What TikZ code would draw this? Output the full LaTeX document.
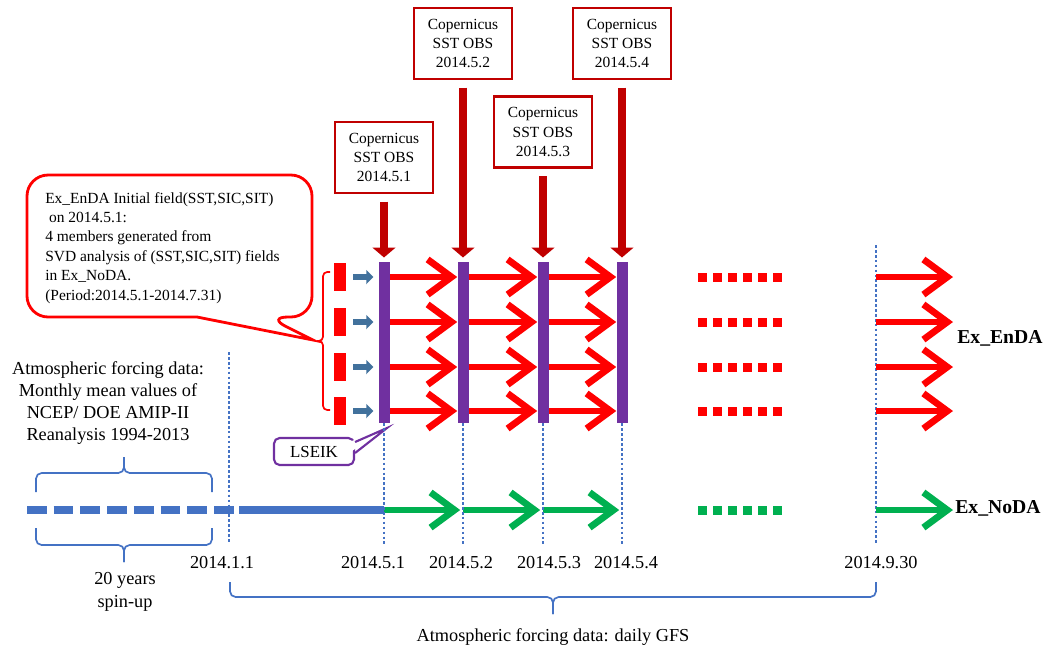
\documentclass[tikz,border=0pt]{standalone}
\usepackage{fontspec}
\setmainfont{Liberation Serif}
\usepackage{tikz}
\usetikzlibrary{arrows.meta,calc}

\definecolor{obsred}{RGB}{192,0,0}
\definecolor{lsepurple}{RGB}{112,48,160}
\definecolor{tlblue}{RGB}{68,114,196}
\definecolor{arrblue}{RGB}{65,113,156}
\definecolor{nodagreen}{RGB}{0,176,80}

\begin{document}
\begin{tikzpicture}[x=0.025cm, y=-0.025cm, font=\fontsize{11}{13.8}\selectfont,
  obs/.style={draw=obsred, line width=2.1pt, fill=white, align=center, minimum width=2.45cm, minimum height=1.775cm, inner sep=2pt},
  obsarr/.style={obsred, line width=5pt, -{Triangle[length=7pt,width=16pt]}},
  assim/.style={fill=lsepurple, minimum width=0.275cm, minimum height=4.025cm, inner sep=0pt},
  ensarr/.style={red, line width=4.8pt, -{Straight Barb[length=17pt,width=25pt]}},
  nodaarr/.style={nodagreen, line width=4.8pt, -{Straight Barb[length=17pt,width=25pt]}},
  memb/.style={fill=red, minimum width=0.3cm, minimum height=0.7cm, inner sep=0pt},
  initarr/.style={arrblue, line width=4.5pt, -{Triangle[length=5pt,width=10pt]}},
  dateline/.style={tlblue, line width=1.9pt, dash pattern=on 1.9pt off 1.6pt},
  dotsgap/.style={line width=6.4pt, dash pattern=on 6.4pt off 4.3pt},
  datelab/.style={font=\fontsize{13}{16}\selectfont},
  exlab/.style={font=\fontsize{14}{16}\selectfont\bfseries, anchor=west, inner sep=0pt},
  blbrace/.style={tlblue, line width=1.2pt, rounded corners=4pt},
]
\useasboundingbox (0,0) rectangle (1052,647);

% observation boxes
\node[obs] (o1) at (384,157.5) {Copernicus\\SST OBS\\2014.5.1};
\node[obs] (o2) at (463,43.5) {Copernicus\\SST OBS\\2014.5.2};
\node[obs] (o3) at (543,132) {Copernicus\\SST OBS\\2014.5.3};
\node[obs] (o4) at (622,43.5) {Copernicus\\SST OBS\\2014.5.4};

% analysis steps
\foreach \i/\x in {1/384,2/463,3/543,4/622}
  \node[assim] (b\i) at (\x,342.5) {};
\foreach \i in {1,...,4}
  \draw[obsarr] ([yshift=-5pt]o\i.south) -- ([yshift=3pt]b\i.north);

% members
\foreach \r/\y in {1/277,2/322,3/367,4/411} {
  \coordinate (r\r) at (0,\y);
  \node[memb] (m\r) at (340,\y) {};
  \draw[initarr] ([xshift=5pt]m\r.east) -- ([xshift=-3.5pt]b1.west |- r\r);
}
\foreach \a/\b in {1/2,2/3,3/4}
  \foreach \r in {1,...,4}
    \draw[ensarr] (b\a.east |- r\r) -- (b\b.west |- r\r);
\foreach \r in {1,...,4}
  \draw[red, dotsgap] (698,0 |- r\r) -- (786,0 |- r\r);

% 2014.9.30
\coordinate (e930t) at (876,245);
\coordinate (e930b) at (876,545);
\coordinate (endE) at (953,0);
\draw[dateline] (e930t) -- (e930b);
\foreach \r in {1,...,4}
  \draw[ensarr] (e930t |- r\r) -- (endE |- r\r);
\node[exlab] (enda) at (957,338) {Ex\_EnDA};

% members brace and callout
\coordinate (mtip) at (317,341);
\draw[red, line width=1.2pt, rounded corners=3pt] (330,272) -- (323,272) -- (323,341) -- (mtip);
\draw[red, line width=1.2pt, rounded corners=3pt] (330,410) -- (323,410) -- (323,341) -- (mtip);
\draw[red, line width=2pt] (313,340) -- (197,317) [rounded corners=15pt] -- (27,317) -- (27,175) -- (312,175) -- (312,317) -- (267,317) [sharp corners] -- cycle;
\node[anchor=north west, align=left, inner sep=0pt] (initf) at (45,192)
  {Ex\_EnDA Initial field(SST,SIC,SIT)\\ \ on 2014.5.1:\\4 members generated from\\SVD analysis of (SST,SIC,SIT) fields\\in Ex\_NoDA.\\(Period:2014.5.1-2014.7.31)};

% LSEIK
\node[draw=lsepurple, line width=1.5pt, rounded corners=4pt, fill=white, minimum width=2cm, minimum height=0.675cm, font=\fontsize{12}{14}\selectfont] (lseik) at (314,451.5) {LSEIK};
\coordinate (ltip) at (387,428);
\fill[white] (349,442) -- (ltip) -- (349,453) -- cycle;
\draw[lsepurple, line width=1.5pt] (lseik.east |- 0,442) -- (ltip) -- (lseik.east |- 0,453);

% time line
\coordinate (tl) at (0,510);
\draw[tlblue, line width=5pt, dash pattern=on 14pt off 5pt] (27,510) -- (237,510);
\draw[tlblue, line width=5pt] (239,510) -- (b1 |- tl);
\draw[nodaarr] (b1 |- tl) -- ([xshift=-2pt]b2 |- tl);
\draw[nodaarr] (b2 |- tl) -- ([xshift=-2pt]b3 |- tl);
\draw[nodaarr] (b3 |- tl) -- ([xshift=-2pt]b4 |- tl);
\draw[nodagreen, dotsgap] (698,510) -- (786,510);
\draw[nodaarr] (e930t |- tl) -- (endE |- tl);
\node[exlab] (noda) at (955,508) {Ex\_NoDA};

% date lines
\draw[dateline] (229,352) -- (229,543);
\foreach \i in {1,...,4}
  \draw[dateline] (b\i.south) -- (b\i.south |- 0,545);
\node[datelab] (d11) at (222,563) {2014.1.1};
\node[datelab] (d51) at (373,563) {2014.5.1};
\node[datelab] (d52) at (461,563) {2014.5.2};
\node[datelab] (d53) at (549,563) {2014.5.3};
\node[datelab] (d54) at (626,563) {2014.5.4};
\node[datelab] (d930) at (881,563) {2014.9.30};

% forcing
\node[align=center, font=\fontsize{13}{15.6}\selectfont] (atmmon) at (108,403)
  {Atmospheric forcing data:\\Monthly mean values of\\NCEP/ DOE AMIP-II\\Reanalysis 1994-2013};
\draw[blbrace] (36,492) -- (36,473) -- (124,473) -- (124,457);
\draw[blbrace] (212,492) -- (212,473) -- (124,473) -- (124,457);
\draw[blbrace] (36,528) -- (36,545) -- (124,545) -- (124,562);
\draw[blbrace] (212,528) -- (212,545) -- (124,545) -- (124,562);
\node[datelab, align=center] (spin) at (125,592) {20 years\\spin-up};
\draw[blbrace] (230,582) -- (230,597) -- (553,597) -- (553,614);
\draw[blbrace] (876,582) -- (876,597) -- (553,597) -- (553,614);
\node[datelab] (gfs) at (553,637) {Atmospheric forcing data: daily GFS};
\end{tikzpicture}
\end{document}
